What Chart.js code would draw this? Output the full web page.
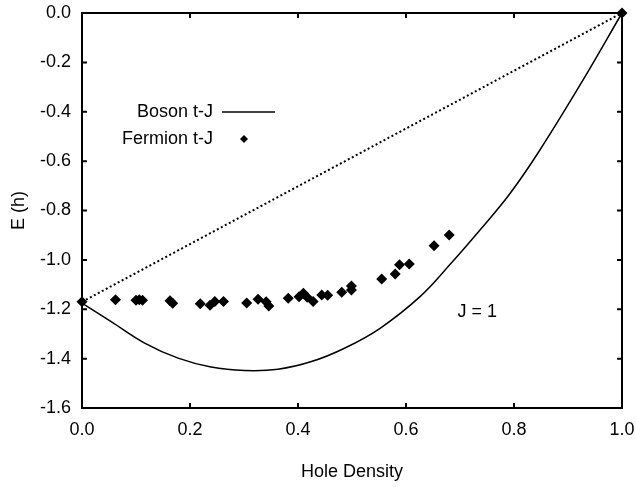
<!DOCTYPE html>
<html>
<head>
<meta charset="utf-8">
<script src="https://cdn.jsdelivr.net/npm/chart.js@4"></script>
<style>
  html, body { margin: 0; padding: 0; background: #fff; }
  #wrap { width: 636px; height: 487px; }
</style>
</head>
<body>
<div id="wrap"><canvas id="graph" width="636" height="487"></canvas></div>
<script>
// values
var bosonX = [0.0, 0.054, 0.116, 0.178, 0.239, 0.301, 0.363, 0.425, 0.486, 0.552, 0.626, 0.681, 0.737, 0.793, 0.848, 0.928, 1.0];
var bosonY = [-1.175, -1.250, -1.337, -1.398, -1.434, -1.448, -1.443, -1.412, -1.358, -1.277, -1.149, -1.020, -0.879, -0.730, -0.555, -0.271, 0.0];

var fermionX = [0.0, 0.062, 0.100, 0.106, 0.112, 0.163, 0.168, 0.219, 0.237, 0.246, 0.262, 0.305, 0.326, 0.341, 0.346, 0.382, 0.402, 0.410, 0.417, 0.428, 0.444, 0.455, 0.481, 0.499, 0.499, 0.555, 0.580, 0.588, 0.606, 0.652, 0.680, 1.0];
var fermionY = [-1.170, -1.162, -1.164, -1.162, -1.164, -1.166, -1.176, -1.178, -1.184, -1.169, -1.169, -1.175, -1.159, -1.170, -1.187, -1.155, -1.149, -1.135, -1.151, -1.169, -1.142, -1.143, -1.131, -1.122, -1.106, -1.077, -1.057, -1.020, -1.017, -0.943, -0.899, 0.0];

var dottedX = [0.0, 1.0];
var dottedY = [-1.170, 0.0];

var xTicks = [0.0, 0.2, 0.4, 0.6, 0.8, 1.0];
var yTicks = [0.0, -0.2, -0.4, -0.6, -0.8, -1.0, -1.2, -1.4, -1.6];

var fontName = "'Liberation Sans', Arial, Helvetica, sans-serif";

function toPoints(xs, ys) {
    var pts = [];
    for (let i = 0; i < xs.length; i++) {
        pts.push({ x: xs[i], y: ys[i] });
    }
    return pts;
}

// frame, inward ticks, legend and the J = 1 label
const framePlugin = {
    id: 'frame',
    afterDraw(chart) {
        const ctx = chart.ctx;
        const a = chart.chartArea;
        const xs = chart.scales.x;
        const ys = chart.scales.y;
        ctx.save();
        ctx.strokeStyle = '#000';
        ctx.lineWidth = 2;
        ctx.strokeRect(a.left, a.top, a.right - a.left, a.bottom - a.top);

        ctx.beginPath();
        xTicks.forEach(v => {
            const px = xs.getPixelForValue(v);
            ctx.moveTo(px, a.bottom); ctx.lineTo(px, a.bottom - 5);
            ctx.moveTo(px, a.top); ctx.lineTo(px, a.top + 5);
        });
        yTicks.forEach(v => {
            const py = ys.getPixelForValue(v);
            ctx.moveTo(a.left, py); ctx.lineTo(a.left + 5, py);
            ctx.moveTo(a.right, py); ctx.lineTo(a.right - 5, py);
        });
        ctx.stroke();

        // legend
        ctx.fillStyle = '#000';
        ctx.font = '18px ' + fontName;
        ctx.textAlign = 'right';
        ctx.textBaseline = 'middle';
        ctx.fillText('Boson t-J', 213, 112);
        ctx.fillText('Fermion t-J', 213, 139);
        ctx.lineWidth = 1.5;
        ctx.beginPath();
        ctx.moveTo(222, 112); ctx.lineTo(275, 112);
        ctx.stroke();
        ctx.beginPath();
        ctx.moveTo(244, 135); ctx.lineTo(248, 139); ctx.lineTo(244, 143); ctx.lineTo(240, 139);
        ctx.closePath();
        ctx.fill();

        ctx.textAlign = 'center';
        ctx.fillText('J = 1', xs.getPixelForValue(0.732), ys.getPixelForValue(-1.213));
        ctx.restore();
    }
};

const config = {
    type: 'scatter',
    data: {
        datasets: [
            {
                label: 'Boson t-J',
                data: toPoints(bosonX, bosonY),
                showLine: true,
                borderColor: '#000',
                borderWidth: 1.5,
                pointRadius: 0,
                tension: 0.4,
                clip: false
            },
            {
                label: 'dotted',
                data: toPoints(dottedX, dottedY),
                showLine: true,
                borderColor: '#000',
                borderWidth: 2,
                borderDash: [2, 2.5],
                pointRadius: 0,
                clip: false
            },
            {
                label: 'Fermion t-J',
                data: toPoints(fermionX, fermionY),
                showLine: false,
                pointStyle: 'rectRot',
                pointRadius: 5.5,
                backgroundColor: '#000',
                borderColor: '#000',
                borderWidth: 0,
                clip: false
            }
        ]
    },
    options: {
        responsive: false,
        animation: false,
        layout: { padding: { top: 13, right: 14, left: 0, bottom: 0 } },
        plugins: {
            legend: { display: false },
            tooltip: { enabled: false }
        },
        scales: {
            x: {
                type: 'linear',
                min: 0,
                max: 1,
                afterFit: s => { s.height = 79; s.paddingLeft = 0; s.paddingRight = 0; },
                afterBuildTicks: s => { s.ticks = xTicks.map(v => ({ value: v })); },
                grid: { display: false, drawTicks: false },
                border: { display: false },
                ticks: {
                    color: '#000',
                    padding: 11,
                    font: { family: fontName, size: 18 },
                    callback: v => v.toFixed(1)
                },
                title: {
                    display: true,
                    text: 'Hole Density',
                    color: '#000',
                    font: { family: fontName, size: 18 },
                    padding: { top: 16 }
                }
            },
            y: {
                type: 'linear',
                min: -1.6,
                max: 0,
                afterFit: s => { s.width = 82; s.paddingTop = 0; s.paddingBottom = 0; },
                afterBuildTicks: s => { s.ticks = yTicks.map(v => ({ value: v })); },
                grid: { display: false, drawTicks: false },
                border: { display: false },
                ticks: {
                    color: '#000',
                    padding: 11,
                    font: { family: fontName, size: 18 },
                    callback: v => v.toFixed(1)
                },
                title: {
                    display: true,
                    text: 'E (h)',
                    color: '#000',
                    font: { family: fontName, size: 18 },
                    padding: { top: 8, bottom: 0 }
                }
            }
        }
    },
    plugins: [framePlugin]
};

new Chart(document.getElementById('graph'), config);
</script>
</body>
</html>
